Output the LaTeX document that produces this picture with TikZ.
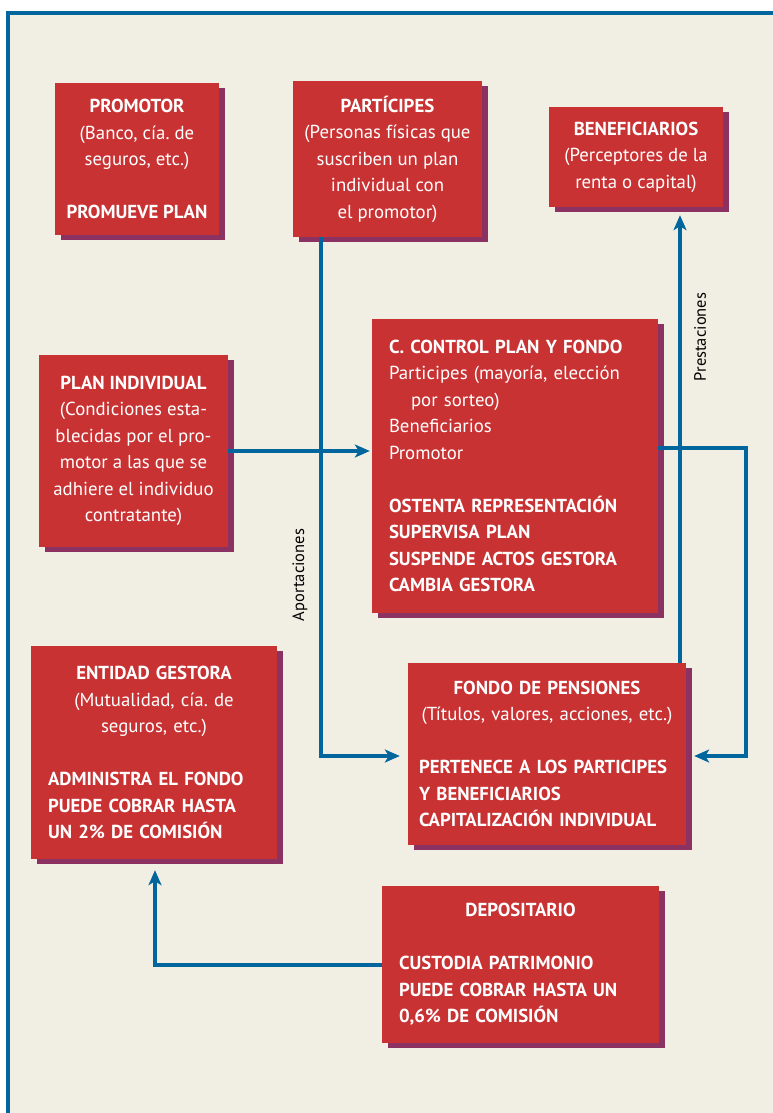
\documentclass[tikz,border=0pt]{standalone}
\usepackage{fontspec}
\setmainfont{PT Sans}
\usetikzlibrary{arrows.meta,shadows,calc}
\definecolor{boxred}{HTML}{C93233}
\definecolor{boxshade}{HTML}{8C3262}
\definecolor{linkblue}{HTML}{00669D}
\definecolor{paper}{HTML}{F1EFE4}
\frenchspacing
\begin{document}
\begin{tikzpicture}[x=1pt,y=-1pt,
  box/.style={fill=boxred, text=white, inner ysep=0pt,
    font=\fontsize{18.8}{26.5}\selectfont,
    drop shadow={shadow xshift=6pt, shadow yshift=-5pt, fill=boxshade, opacity=1}},
  cbox/.style={box, align=center, inner xsep=4pt},
  mbox/.style={box, inner xsep=17pt},
  conn/.style={draw=linkblue, line width=4pt},
  tip/.style={-{Stealth[length=15pt,width=13pt,inset=4pt]}},
  side/.style={font=\fontsize{16.5}{18}\selectfont, rotate=90, text=black}]
\useasboundingbox (0,0) rectangle (773,1113);
% paper and frame
\fill[white] (0,0) rectangle (773,1113);
\fill[paper] (8,13) rectangle (773,1113);
\draw[linkblue, line width=3.5pt] (8,1113) -- (8,13) -- (773,13);

% boxes
\node[cbox, minimum width=164pt, minimum height=152pt] (promotor) at (137,159)
  {\textbf{PROMOTOR}\\(Banco, cía. de\\seguros, etc.)\\[26.5pt]\textbf{PROMUEVE PLAN}};
\node[cbox, minimum width=189pt, minimum height=156pt] (participes) at (387.5,159)
  {\textbf{PARTÍCIPES}\\(Personas físicas que\\suscriben un plan\\individual con\\el promotor)};
\node[cbox, minimum width=174pt, minimum height=100pt] (benef) at (636,157)
  {\textbf{BENEFICIARIOS}\\(Perceptores de la\\renta o capital)};
\node[cbox, minimum width=189pt, minimum height=192pt] (plan) at (133.5,451)
  {\textbf{PLAN INDIVIDUAL}\\(Condiciones esta-\\blecidas por el pro-\\motor a las que se\\adhiere el individuo\\contratante)};
\node[mbox, text width=252pt, minimum width=286pt, minimum height=294pt] (control) at (515,466)
  {\raggedright\textbf{C. CONTROL PLAN Y FONDO}\\Participes (mayoría, elección\\\hspace*{22pt}por sorteo)\\Beneficiarios\\Promotor\\[26.5pt]
   \textbf{OSTENTA REPRESENTACIÓN}\\\textbf{SUPERVISA PLAN}\\\textbf{SUSPENDE ACTOS GESTORA}\\\textbf{CAMBIA GESTORA}};
\node[mbox, text width=212pt, minimum width=246pt, minimum height=213pt] (entidad) at (154,752.5)
  {\centering\textbf{ENTIDAD GESTORA}\\(Mutualidad, cía. de\\seguros, etc.)\par\vspace{26.5pt}
   \raggedright\textbf{ADMINISTRA EL FONDO}\\\textbf{PUEDE COBRAR HASTA}\\\textbf{UN 2\% DE COMISIÓN}\par};
\node[mbox, inner xsep=11pt, text width=256pt, minimum width=278pt, minimum height=182pt] (fondo) at (547,754)
  {\centering\textbf{FONDO DE PENSIONES}\\(Títulos, valores, acciones, etc.)\par\vspace{26.5pt}
   \raggedright\textbf{PERTENECE A LOS PARTICIPES}\\\textbf{Y BENEFICIARIOS}\\\textbf{CAPITALIZACIÓN INDIVIDUAL}\par};
\node[mbox, text width=243pt, minimum width=277pt, minimum height=157pt] (depos) at (520.5,964.5)
  {\centering\textbf{DEPOSITARIO}\par\vspace{26.5pt}
   \raggedright\textbf{CUSTODIA PATRIMONIO}\\\textbf{PUEDE COBRAR HASTA UN}\\\textbf{0,6\% DE COMISIÓN}\par};

% bus positions for the connectors
\coordinate (abus) at ($(participes.south west)+(28,0)$);
\coordinate (rbus) at (746,0);
\coordinate (pbus) at (680,0);
\coordinate (gbus) at (155,0);
\coordinate (ctrlout) at ($(control.east)+(0,-18)$);

% connectors
\draw[conn, tip, shorten >=8pt] (abus) |- ([yshift=-2pt]fondo.west);
\draw[conn, tip, shorten >=2pt] (plan.east) -- (plan.east -| control.west);
\draw[conn, tip, shorten >=8pt] (ctrlout) -- (ctrlout -| rbus) |- ([yshift=-2pt]fondo.east);
\draw[conn, tip, shorten >=8pt] (fondo.north -| pbus) -- (benef.south -| pbus);
\draw[conn, tip, shorten >=11pt] (depos.west) -| (entidad.south -| gbus);

% connector labels
\node[side] (aport) at (300,575) {Aportaciones};
\node[side] (prest) at (700,337) {Prestaciones};
\end{tikzpicture}
\end{document}
